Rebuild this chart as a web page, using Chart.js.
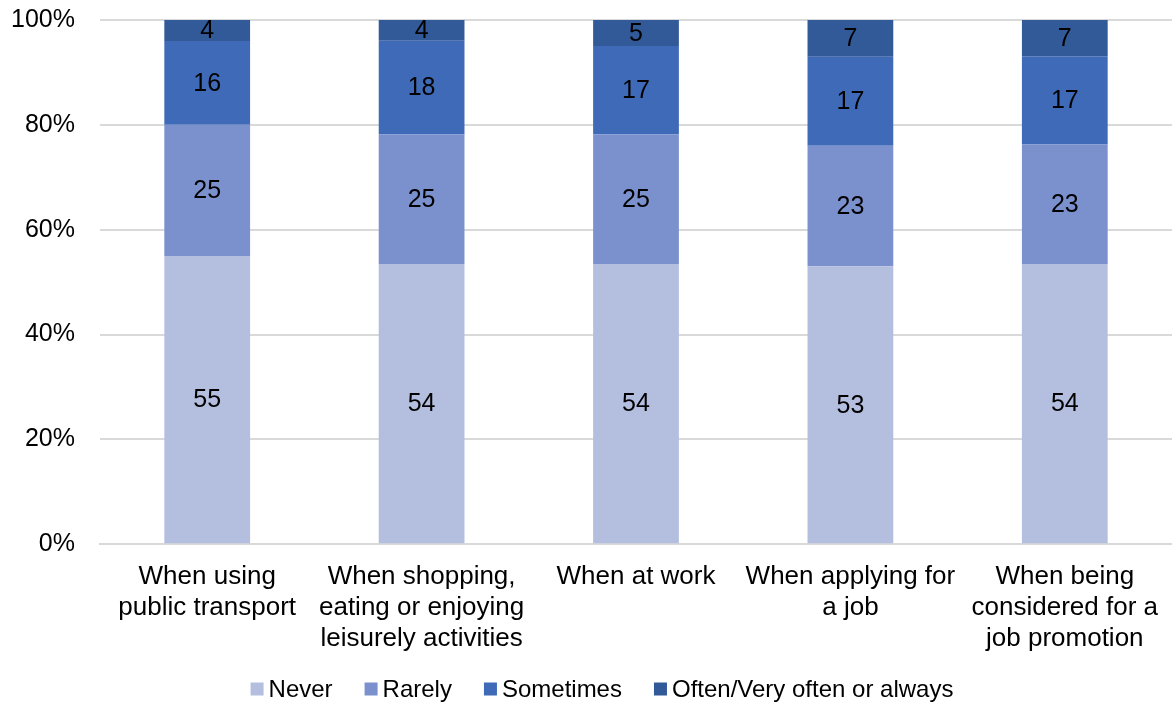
<!DOCTYPE html>
<html>
<head>
<meta charset="utf-8">
<script src="https://cdn.jsdelivr.net/npm/chart.js@4/dist/chart.umd.min.js"></script>
<style>
  html, body { margin: 0; padding: 0; background: #fff; }
  #wrap { width: 1172px; height: 704px; }
</style>
</head>
<body>
<div id="wrap"><canvas id="myChart" width="1172" height="704"></canvas></div>
<script>
// categories (multi-line labels) and the shown values per series
const categories = [
  ["When using", "public transport"],
  ["When shopping,", "eating or enjoying", "leisurely activities"],
  ["When at work"],
  ["When applying for", "a job"],
  ["When being", "considered for a", "job promotion"]
];
const never = [55, 54, 54, 53, 54];
const rarely = [25, 25, 25, 23, 23];
const sometimes = [16, 18, 17, 17, 17];
const often = [4, 4, 5, 7, 7];
const seriesNames = ["Never", "Rarely", "Sometimes", "Often/Very often or always"];
const seriesColors = ["#B4BFE0", "#7A91CE", "#3F6AB7", "#325A99"];
const yTicks = [0, 20, 40, 60, 80, 100];

const series = [never, rarely, sometimes, often];

// each bar is a 100% stack, so turn the shown numbers into shares of the bar total
const totals = categories.map((c, i) => series.reduce((s, arr) => s + arr[i], 0));
const shares = series.map(arr => arr.map((v, i) => v / totals[i] * 100));

const FONT = "'Liberation Sans', Arial, sans-serif";

// draws the value in the middle of each segment (no datalabels plugin available offline)
const segmentLabels = {
  id: "segmentLabels",
  afterDatasetsDraw(chart) {
    const ctx = chart.ctx;
    ctx.save();
    ctx.font = "25px " + FONT;
    ctx.fillStyle = "#000";
    ctx.textAlign = "center";
    ctx.textBaseline = "middle";
    chart.data.datasets.forEach((ds, di) => {
      const meta = chart.getDatasetMeta(di);
      meta.data.forEach((bar, i) => {
        const y = (bar.y + bar.base) / 2;
        ctx.fillText(String(series[di][i]), bar.x, y + 1);
      });
    });
    ctx.restore();
  }
};

// Excel-style legend: small square, tight gap to the text, wide gap between items
// (the built-in legend has a fixed box-to-text gap of fontSize/2)
const bottomLegend = {
  id: "bottomLegend",
  afterDraw(chart) {
    const ctx = chart.ctx;
    const box = 13, textGap = 5, itemGap = 32, centerX = 602, y = 689;
    ctx.save();
    ctx.font = "24px " + FONT;
    ctx.textBaseline = "middle";
    const items = chart.data.datasets.map(ds => ({
      text: ds.label,
      color: ds.backgroundColor,
      w: ctx.measureText(ds.label).width
    }));
    const total = items.reduce((s, it) => s + box + textGap + it.w, 0) + itemGap * (items.length - 1);
    let x = centerX - total / 2;
    items.forEach(it => {
      ctx.fillStyle = it.color;
      ctx.fillRect(x, y - box / 2, box, box);
      ctx.fillStyle = "#000";
      ctx.fillText(it.text, x + box + textGap, y + 1);
      x += box + textGap + it.w + itemGap;
    });
    ctx.restore();
  }
};

const chartConfig = {
  type: "bar",
  data: {
    labels: categories,
    datasets: seriesNames.map((name, i) => ({
      label: name,
      data: shares[i],
      backgroundColor: seriesColors[i],
      borderWidth: 0,
      categoryPercentage: 1,
      barPercentage: 0.4
    }))
  },
  options: {
    responsive: false,
    animation: false,
    layout: { padding: { top: 20, right: 0, left: 0, bottom: 41 } },
    scales: {
      x: {
        stacked: true,
        grid: { display: false },
        border: { color: "#d9d9d9", width: 2 },
        ticks: {
          color: "#000",
          font: { family: FONT, size: 26, lineHeight: 1.19 },
          maxRotation: 0,
          autoSkip: false,
          padding: 9
        }
      },
      y: {
        stacked: true,
        min: 0,
        max: 100,
        afterBuildTicks(scale) {
          scale.ticks = yTicks.map(v => ({ value: v }));
        },
        afterFit(scale) {
          scale.width = 100;
        },
        grid: { color: "#d9d9d9", lineWidth: 2, drawTicks: true, tickLength: 25, tickColor: "rgba(0,0,0,0)" },
        border: { display: false },
        ticks: {
          color: "#000",
          font: { family: FONT, size: 25 },
          padding: 0,
          callback: v => v + "%"
        }
      }
    },
    plugins: {
      legend: { display: false },
      tooltip: { enabled: false }
    }
  },
  plugins: [segmentLabels, bottomLegend]
};

const ctx = document.getElementById("myChart");
const graphChart = new Chart(ctx, chartConfig);
</script>
</body>
</html>
